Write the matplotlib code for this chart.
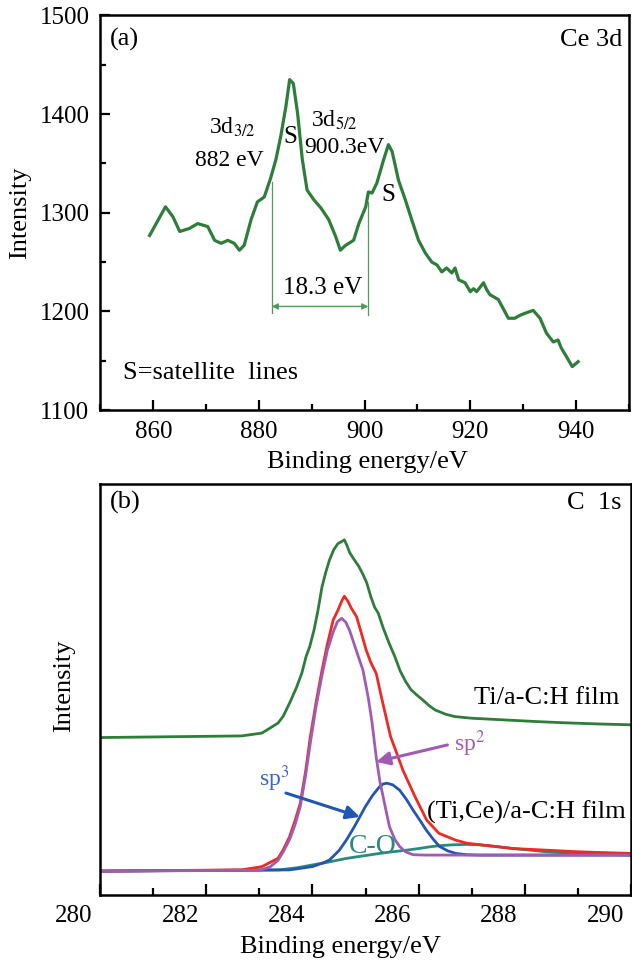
import numpy as np
import matplotlib
matplotlib.use('Agg')
import matplotlib.pyplot as plt
from matplotlib.ticker import MultipleLocator, NullLocator
from matplotlib.transforms import ScaledTranslation

plt.rcParams['font.family'] = ['Liberation Serif', 'DejaVu Serif']
plt.rcParams['mathtext.fontset'] = 'stix'

# (a) Ce 3d spectrum
ce_x = [859.3, 862.3, 863.7, 865.0, 866.8, 868.4, 870.3, 871.6, 872.8, 874.1,
        875.3, 876.3, 877.2, 878.5, 879.7, 881.0, 882.2, 883.2, 884.1, 885.1,
        885.8, 886.5, 887.3, 888.2, 889.1, 890.4, 891.7, 893.2, 894.5, 895.4,
        896.4, 897.9, 898.9, 900.2, 900.7, 901.4, 902.3, 903.6, 904.5, 905.2,
        906.4, 907.7, 908.9, 910.2, 911.5, 912.7, 913.7, 914.6, 915.5, 916.5,
        917.1, 917.8, 919.0, 920.0, 920.6, 921.2, 922.5, 923.1, 923.7, 925.3,
        926.2, 927.2, 928.4, 929.4, 930.3, 931.9, 933.2, 934.4, 935.7, 936.6,
        937.2, 938.2, 939.3, 940.4]
ce_y = [1277, 1306, 1296, 1281, 1284, 1289, 1286, 1272, 1269, 1272,
        1269, 1262, 1267, 1293, 1311, 1316, 1335, 1354, 1377, 1408,
        1435, 1431, 1401, 1354, 1323, 1313, 1305, 1293, 1276, 1262,
        1267, 1272, 1289, 1306, 1321, 1320, 1330, 1354, 1369, 1362,
        1333, 1313, 1293, 1272, 1259, 1250, 1247, 1240, 1244, 1239,
        1244, 1232, 1229, 1220, 1223, 1220, 1229, 1222, 1217, 1212,
        1203, 1193, 1193, 1196, 1198, 1201, 1193, 1178, 1169, 1171,
        1163, 1154, 1144, 1149]

# (b) C 1s spectra (arbitrary units)
ti_x = [280.0, 282.67, 283.05, 283.35, 283.45, 283.57, 283.7, 283.8, 283.88,
        283.95, 284.03, 284.1, 284.18, 284.25, 284.32, 284.4, 284.48, 284.55,
        284.6, 284.65, 284.7, 284.79, 284.87, 284.95, 285.02, 285.1, 285.17,
        285.24, 285.33, 285.45, 285.55, 285.65, 285.75, 285.85, 285.95, 286.08,
        286.2, 286.31, 286.5, 286.68, 287.0, 287.6, 288.2, 288.73, 289.4, 290.0]
ti_y = [38.3, 38.7, 39.4, 41.8, 43.5, 46.7, 50.5, 54.0, 58.0,
        60.5, 64.5, 69.0, 75.0, 78.5, 81.5, 84.0, 85.5, 86.0,
        86.4, 85.0, 83.3, 81.5, 80.0, 78.0, 76.0, 72.5, 70.0,
        68.5, 65.0, 61.0, 58.0, 54.5, 52.0, 50.0, 48.8, 47.4,
        46.0, 45.0, 44.0, 43.4, 43.0, 42.6, 42.2, 41.9, 41.6, 41.4]

tice_x = [280.0, 282.67, 283.05, 283.35, 283.45, 283.57, 283.67, 283.77, 283.87,
          283.96, 284.07, 284.18, 284.28, 284.39, 284.48, 284.55, 284.6, 284.67,
          284.73, 284.83, 284.92, 285.01, 285.1, 285.2, 285.3, 285.47, 285.6,
          285.7, 285.93, 286.15, 286.38, 286.68, 286.9, 287.3, 287.77, 288.4,
          289.0, 290.0]
tice_y = [5.8, 6.1, 6.9, 8.9, 11.0, 14.2, 18.0, 22.3, 30.0,
          38.5, 47.0, 54.7, 61.0, 66.9, 69.3, 71.5, 72.7, 71.4,
          69.8, 67.7, 63.7, 59.6, 56.5, 53.9, 48.0, 38.5, 34.0,
          30.4, 23.9, 18.2, 15.0, 13.4, 12.6, 12.0, 11.3, 10.9,
          10.5, 10.1]

sp2_x = [280.0, 283.0, 283.2, 283.35, 283.45, 283.57, 283.67, 283.77, 283.87,
         283.96, 284.07, 284.18, 284.28, 284.39, 284.47, 284.55, 284.63, 284.7,
         284.76, 284.85, 284.95, 285.05, 285.12, 285.2, 285.27, 285.33, 285.4,
         285.45, 285.55, 285.64, 285.75, 285.89, 286.1, 290.0]
sp2_y = [5.8, 6.0, 6.8, 8.4, 10.5, 13.5, 17.0, 21.5, 29.0,
         37.0, 46.0, 53.5, 59.5, 64.0, 66.5, 67.3, 66.3, 64.3,
         62.0, 58.5, 54.7, 48.0, 42.0, 33.5, 27.5, 23.9, 19.5,
         16.6, 13.5, 11.8, 10.5, 9.8, 9.7, 9.7]

sp3_x = [280.0, 283.57, 284.0, 284.2, 284.32, 284.5, 284.64, 284.77, 284.89,
         285.0, 285.13, 285.26, 285.33, 285.4, 285.51, 285.64, 285.77, 285.89,
         286.02, 286.14, 286.27, 286.39, 286.55, 286.7, 286.9, 287.14, 290.0]
sp3_y = [5.8, 6.1, 6.9, 7.8, 8.5, 10.8, 13.4, 16.2, 19.0,
         21.6, 24.2, 26.3, 27.0, 27.2, 26.8, 25.5, 23.2, 20.7,
         18.2, 15.8, 13.6, 11.8, 10.7, 10.1, 9.8, 9.7, 9.7]

co_x = [280.0, 283.38, 283.7, 284.0, 284.3, 284.64, 284.95, 285.26, 285.5,
        285.77, 286.0, 286.2, 286.4, 286.64, 286.9, 287.14, 287.45, 287.77,
        288.1, 288.4, 289.0, 290.0]
co_y = [5.8, 6.1, 6.6, 7.3, 8.0, 8.9, 9.5, 10.1, 10.5,
        10.9, 11.3, 11.7, 12.0, 12.2, 12.3, 12.2, 11.8, 11.3,
        10.9, 10.5, 10.1, 9.7]

GREEN = '#2f7d3b'
LGREEN = '#4f9a58'
RED = '#ee2a24'
PURPLE = '#a05cb4'
BLUE = '#2455b0'
TEAL = '#2a8a7e'
FS = 19    # labels
TFS = 18   # tick labels
AFS = 17   # peak annotations

fig = plt.figure(figsize=(6.32, 9.67), dpi=100)
ax1 = fig.add_axes([0.159, 0.576, 0.836, 0.408])
ax2 = fig.add_axes([0.158, 0.0745, 0.841, 0.425])

for ax in (ax1, ax2):
    for s in ax.spines.values():
        s.set_linewidth(1.8)

# panel (a)
ax1.plot(ce_x, ce_y, color=GREEN, lw=2.3)
ax1.set_xlim(850, 950)
ax1.set_ylim(1100, 1500)
ax1.xaxis.set_major_locator(MultipleLocator(20))
ax1.xaxis.set_minor_locator(MultipleLocator(10))
ax1.yaxis.set_major_locator(MultipleLocator(100))
ax1.yaxis.set_minor_locator(MultipleLocator(50))
ax1.tick_params(which='both', direction='in', top=False, right=False,
                labelsize=TFS, width=1.6, pad=8)
ax1.tick_params(which='major', length=7)
ax1.tick_params(which='minor', length=4)
ax1.set_xlabel('Binding energy/eV', fontsize=FS)
ax1.xaxis.set_label_coords(0.506, -0.105)
ax1.set_ylabel('Intensity', fontsize=FS)
ax1.yaxis.set_label_coords(-0.132, 0.5)

ax1.text(0.018, 0.938, '(a)', transform=ax1.transAxes, fontsize=FS, va='center')
ax1.text(0.987, 0.938, 'Ce 3d', transform=ax1.transAxes, fontsize=FS,
         va='center', ha='right')
ax1.text(870.6, 1387, '3d$_{3/2}$', fontsize=AFS, va='center')
ax1.text(874.3, 1353, '882 eV', fontsize=AFS, va='center', ha='center')
ax1.text(886.0, 1377, 'S', fontsize=18, va='center', ha='center')
ax1.text(889.9, 1394, '3d$_{5/2}$', fontsize=AFS, va='center')
ax1.text(896.2, 1366, '900.3eV', fontsize=AFS, va='center', ha='center')
ax1.text(904.4, 1318, 'S', fontsize=18, va='center', ha='center')
ax1.text(892.0, 1224, '18.3 eV', fontsize=AFS + 1, va='center', ha='center')
ax1.text(0.042, 0.094, 'S=satellite  lines', transform=ax1.transAxes,
         fontsize=FS, va='center')

ax1.plot([882.4, 882.4], [1198, 1331], color=LGREEN, lw=0.9)
ax1.plot([900.7, 900.7], [1196, 1311], color=LGREEN, lw=0.9)
ax1.annotate('', xy=(900.7, 1205), xytext=(882.4, 1205),
             arrowprops=dict(arrowstyle='<|-|>', color=LGREEN, lw=1.0,
                             mutation_scale=9, shrinkA=0, shrinkB=0))

# panel (b)
ax2.plot(ti_x, ti_y, color=GREEN, lw=2.0)
ax2.plot(co_x, co_y, color=TEAL, lw=2.0)
ax2.plot(sp3_x, sp3_y, color=BLUE, lw=2.0)
ax2.plot(tice_x, tice_y, color=RED, lw=2.0)
ax2.plot(sp2_x, sp2_y, color=PURPLE, lw=2.0)
ax2.set_xlim(280, 290)
ax2.set_ylim(0, 100)
ax2.xaxis.set_major_locator(MultipleLocator(2))
ax2.xaxis.set_minor_locator(MultipleLocator(1))
ax2.yaxis.set_major_locator(NullLocator())
ax2.tick_params(which='both', direction='in', top=False, right=False,
                labelsize=TFS, width=1.6, pad=7)
ax2.tick_params(which='major', length=8)
ax2.tick_params(which='minor', length=5)
ax2.set_xlabel('Binding energy/eV', fontsize=FS)
ax2.xaxis.set_label_coords(0.453, -0.1)
ax2.set_ylabel('Intensity', fontsize=FS)
ax2.yaxis.set_label_coords(-0.047, 0.51)

ax2.text(0.019, 0.954, '(b)', transform=ax2.transAxes, fontsize=FS, va='center')
ax2.text(0.981, 0.954, 'C  1s', transform=ax2.transAxes, fontsize=FS,
         va='center', ha='right')
ax2.text(287.03, 47.9, 'Ti/a-C:H film', fontsize=FS, va='center')
ax2.text(286.15, 20.2, '(Ti,Ce)/a-C:H film', fontsize=FS, va='center')
ax2.text(286.67, 36.8, 'sp$^2$', fontsize=AFS, va='center', color=PURPLE)
ax2.text(283.0, 28.3, 'sp$^3$', fontsize=AFS, va='center', color='#3a66c4')
ax2.text(285.13, 11.9, 'C-O', fontsize=20, va='center', ha='center', color=TEAL)
ax2.annotate('', xy=(285.2, 32.4), xytext=(286.54, 36.5),
             arrowprops=dict(arrowstyle='-|>', color=PURPLE, lw=2.2,
                             mutation_scale=20, shrinkA=0, shrinkB=0))
ax2.annotate('', xy=(284.89, 19.0), xytext=(283.5, 24.8),
             arrowprops=dict(arrowstyle='-|>', color=BLUE, lw=2.2,
                             mutation_scale=20, shrinkA=0, shrinkB=0))

# the tick labels of (b) sit a little left of their ticks in the original
shift = ScaledTranslation(-26 / 100, 0, fig.dpi_scale_trans)
ax2.set_xticks([280, 282, 284, 286, 288, 290])
for lab in ax2.get_xticklabels():
    lab.set_transform(lab.get_transform() + shift)

fig.savefig('out.png', dpi=100)
